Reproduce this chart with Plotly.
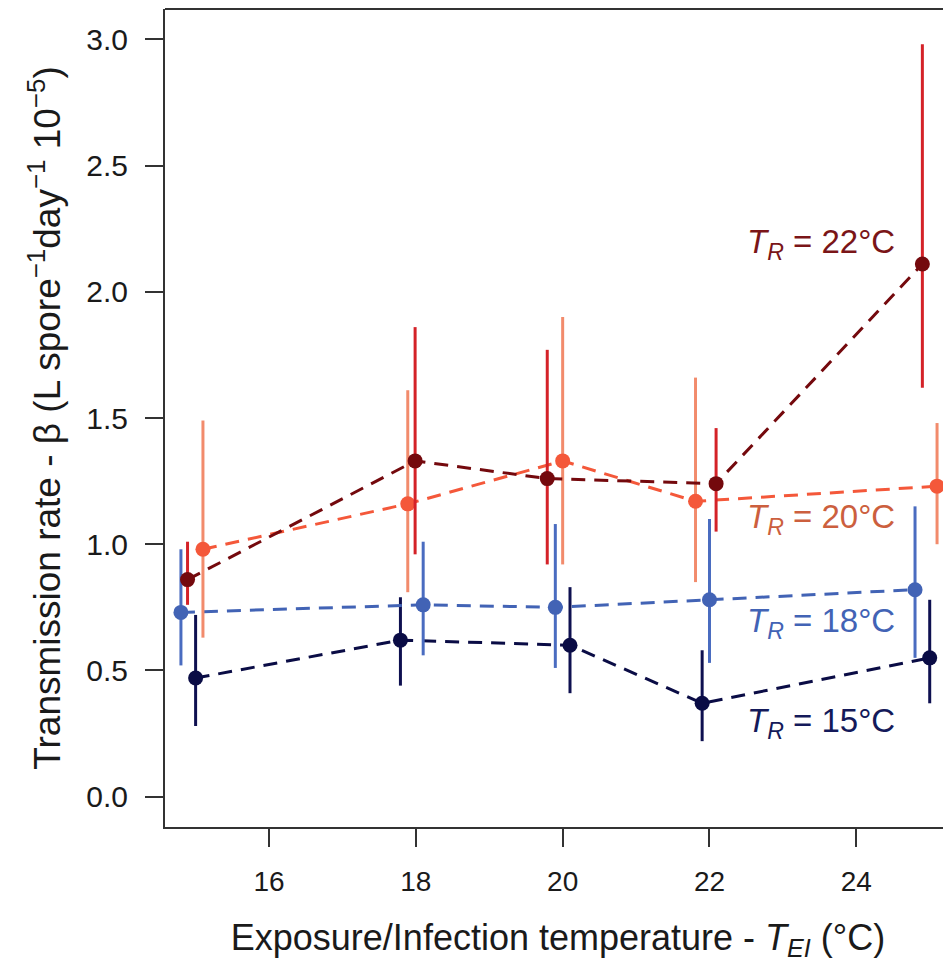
import plotly.graph_objects as go

# ---- data ----
x_22 = [14.89, 17.99, 19.79, 22.09, 24.90]
y_22 = [0.86, 1.33, 1.26, 1.24, 2.11]
lo_22 = [0.76, 0.96, 0.92, 1.05, 1.62]
hi_22 = [1.01, 1.86, 1.77, 1.46, 2.98]

x_20 = [15.10, 17.89, 20.00, 21.81, 25.10]
y_20 = [0.98, 1.16, 1.33, 1.17, 1.23]
lo_20 = [0.63, 0.81, 0.92, 0.85, 1.00]
hi_20 = [1.49, 1.61, 1.90, 1.66, 1.48]

x_18 = [14.80, 18.10, 19.90, 22.00, 24.80]
y_18 = [0.73, 0.76, 0.75, 0.78, 0.82]
lo_18 = [0.52, 0.56, 0.51, 0.53, 0.55]
hi_18 = [0.98, 1.01, 1.08, 1.10, 1.15]

x_15 = [15.00, 17.79, 20.10, 21.90, 25.00]
y_15 = [0.47, 0.62, 0.60, 0.37, 0.55]
lo_15 = [0.28, 0.44, 0.41, 0.22, 0.37]
hi_15 = [0.72, 0.79, 0.83, 0.58, 0.78]

x_ticks = [16, 18, 20, 22, 24]
y_ticks = [0.0, 0.5, 1.0, 1.5, 2.0, 2.5, 3.0]
y_tick_text = ["0.0", "0.5", "1.0", "1.5", "2.0", "2.5", "3.0"]

labels = ["22", "20", "18", "15"]
label_y = [2.19, 1.10, 0.69, 0.29]
label_x = 24.55

series = [
    (x_22, y_22, lo_22, hi_22, "#74090d", "#d42228", "#7a1518"),
    (x_20, y_20, lo_20, hi_20, "#f4583a", "#f28b6c", "#cc5f3e"),
    (x_18, y_18, lo_18, hi_18, "#4263b5", "#4a6cc0", "#4263b5"),
    (x_15, y_15, lo_15, hi_15, "#0a0c45", "#0e1050", "#141a5a"),
]

FONT = "Liberation Sans, Arial, Helvetica, sans-serif"

fig = go.Figure()
for xs, ys, lo, hi, pc, ec, lc in reversed(series):
    fig.add_trace(go.Scatter(
        x=xs, y=ys, mode="lines+markers",
        line=dict(color=pc, width=3, dash="14px,9px"),
        marker=dict(color=pc, size=15),
        error_y=dict(type="data", symmetric=False,
                     array=[h - v for h, v in zip(hi, ys)],
                     arrayminus=[v - l for v, l in zip(ys, lo)],
                     color=ec, thickness=3, width=0),
        showlegend=False, hoverinfo="skip",
    ))

for (xs, ys, lo, hi, pc, ec, lc), lab, ly in zip(series, labels, label_y):
    fig.add_annotation(
        x=label_x, y=ly, xref="x", yref="y", xanchor="right", yanchor="middle",
        text="<i>T</i><sub><i>R</i></sub> = " + lab + "°C",
        showarrow=False, font=dict(family=FONT, size=33, color=lc),
    )

axis_col = "#333333"
fig.update_layout(
    width=943, height=955,
    margin=dict(l=157, r=0, t=1, b=136),
    paper_bgcolor="white", plot_bgcolor="white",
    font=dict(family=FONT, color="#1a1a1a"),
    xaxis=dict(
        range=[14.583, 25.29], tickvals=x_ticks, ticks="outside", ticklen=18,
        tickwidth=2, tickcolor=axis_col, showline=True, linecolor=axis_col,
        linewidth=2, showgrid=False, zeroline=False,
        tickfont=dict(size=28, family=FONT, color="#1a1a1a"),
        ticklabelstandoff=10,
        title=dict(text="Exposure/Infection temperature - <i>T</i><sub><i>EI</i></sub> (°C)",
                   font=dict(size=36, family=FONT, color="#1a1a1a"), standoff=29),
    ),
    yaxis=dict(
        range=[-0.12, 3.12], tickvals=y_ticks, ticktext=y_tick_text,
        ticks="outside", ticklen=18, tickwidth=2, tickcolor=axis_col,
        showline=True, linecolor=axis_col, linewidth=2, showgrid=False,
        zeroline=False,
        tickfont=dict(size=30, family=FONT, color="#1a1a1a"),
        ticklabelstandoff=11,
        title=dict(text="Transmission rate - β (L spore<sup>−1</sup>day<sup>−1</sup> 10<sup>−5</sup>)",
                   font=dict(size=37, family=FONT, color="#1a1a1a"), standoff=14),
    ),
)
fig.add_shape(type="line", xref="paper", yref="paper", x0=0, x1=1, y0=1, y1=1,
              line=dict(color=axis_col, width=2))

fig.write_html("out.html")
